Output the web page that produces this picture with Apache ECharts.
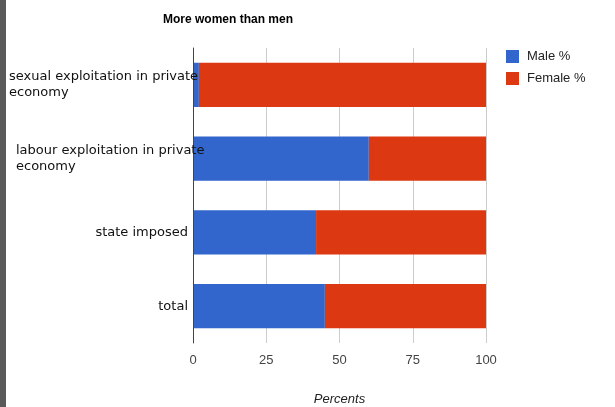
<!DOCTYPE html>
<html>
<head>
<meta charset="utf-8">
<script src="https://cdn.jsdelivr.net/npm/echarts@6/dist/echarts.min.js"></script>
<style>
  html, body { margin: 0; padding: 0; background: #fff; }
  #chart { width: 615px; height: 407px; position: relative; }
  #strip { position: absolute; left: 0; top: 0; width: 6px; height: 407px; background: #5a5a5a; z-index: 5; }
</style>
</head>
<body>
<div id="strip"></div>
<div id="chart"></div>
<script>
const titleText = 'More women than men';
const categories = [
  'sexual exploitation in private\neconomy',
  'labour exploitation in private\neconomy',
  'state imposed',
  'total'
];
const maleValues = [2, 60, 42, 45];
const femaleValues = [98, 40, 58, 55];
const seriesNames = ['Male %', 'Female %'];
const xTicks = [0, 25, 50, 75, 100];
const xAxisName = 'Percents';

const labelStyles = ['a', 'b', 'c', 'c'];

const chart = echarts.init(document.getElementById('chart'), null, { renderer: 'canvas' });
chart.setOption({
  animation: false,
  backgroundColor: '#fff',
  title: {
    text: titleText,
    left: 163, top: 14, padding: 0,
    textStyle: { fontFamily: 'Liberation Sans, Arial', fontSize: 12, fontWeight: 'bold', color: '#000' }
  },
  legend: {
    orient: 'vertical',
    left: 501, top: 45,
    itemWidth: 13, itemHeight: 13, itemGap: 9,
    icon: 'rect',
    data: seriesNames,
    textStyle: { fontFamily: 'Liberation Sans, Arial', fontSize: 13, color: '#222', padding: [0, 0, 0, 3] }
  },
  grid: { left: 193, right: 129, top: 48, bottom: 64, containLabel: false, outerBoundsMode: 'none' },
  xAxis: {
    type: 'value',
    min: xTicks[0], max: xTicks[xTicks.length - 1], interval: 25,
    axisLine: { show: false },
    axisTick: { show: false },
    splitLine: { show: true, lineStyle: { color: '#cccccc', width: 1 } },
    axisLabel: { margin: 11, color: '#444', fontFamily: 'Liberation Sans, Arial', fontSize: 13 },
    name: xAxisName,
    nameLocation: 'middle',
    nameGap: 50,
    nameTextStyle: { fontFamily: 'Liberation Sans, Arial', fontSize: 13, fontStyle: 'italic', color: '#222' }
  },
  yAxis: {
    type: 'category',
    inverse: true,
    data: categories,
    axisLine: { show: true, onZero: false, lineStyle: { color: '#444', width: 1 } },
    axisTick: { show: false },
    splitLine: { show: false },
    axisLabel: {
      margin: 5,
      width: 179,
      overflow: 'none',
      align: 'right',
      formatter: function (v, i) { return '{' + labelStyles[i] + '|' + v + '}'; },
      rich: {
        a: { align: 'left', fontFamily: 'DejaVu Sans', fontSize: 13, color: '#111', lineHeight: 16 },
        b: { align: 'left', padding: [0, 0, 0, 7], fontFamily: 'DejaVu Sans', fontSize: 13, color: '#111', lineHeight: 16 },
        c: { align: 'right', fontFamily: 'DejaVu Sans', fontSize: 13, color: '#111', lineHeight: 16 }
      }
    },
    z: 10
  },
  series: [
    {
      name: seriesNames[0], type: 'bar', stack: 'total',
      barCategoryGap: '40%',
      itemStyle: { color: '#3366cc' },
      data: maleValues
    },
    {
      name: seriesNames[1], type: 'bar', stack: 'total',
      barCategoryGap: '40%',
      itemStyle: { color: '#dc3912' },
      data: femaleValues
    }
  ]
});
</script>
</body>
</html>
